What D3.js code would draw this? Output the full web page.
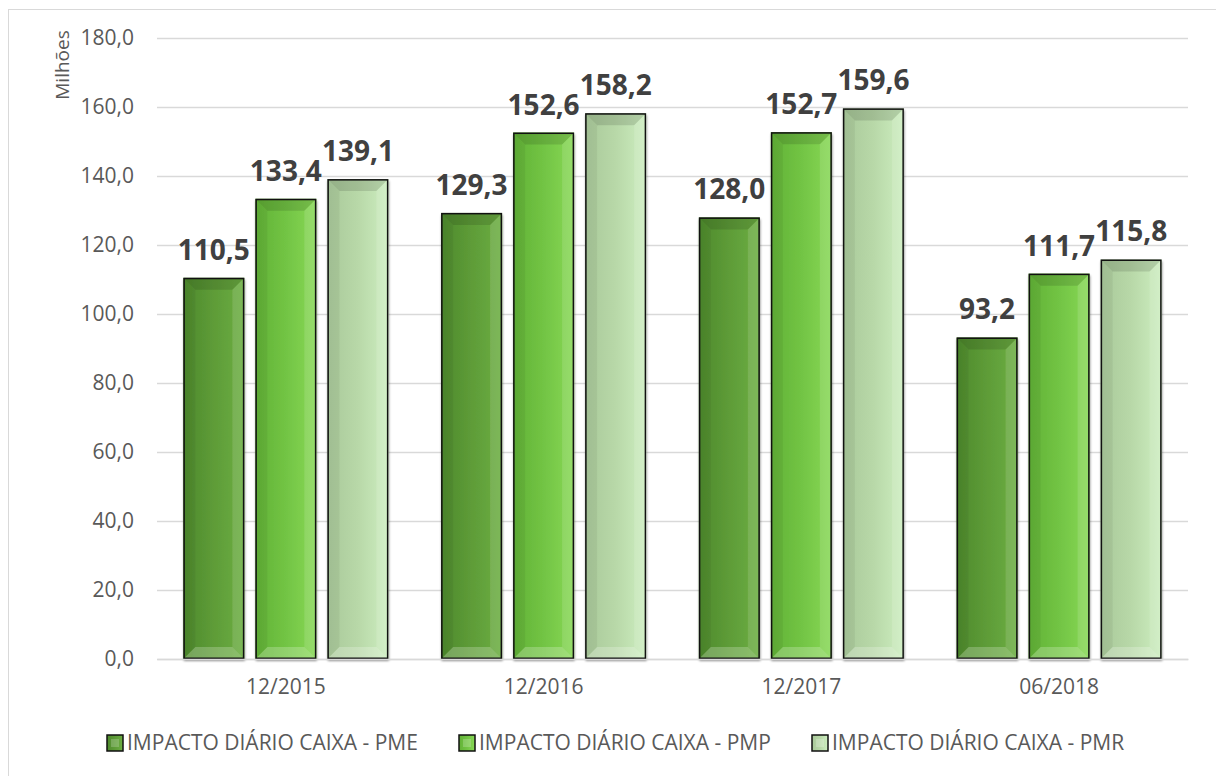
<!DOCTYPE html>
<html>
<head>
<meta charset="utf-8">
<script src="https://cdn.jsdelivr.net/npm/d3@7"></script>
<style>
  body { margin: 0; background: #fff; }
  text { font-family: "Open Sans", "Noto Sans", sans-serif; }
</style>
</head>
<body>
<div id="plot"></div>
<script>
const categories = ["12/2015", "12/2016", "12/2017", "06/2018"];
const seriesNames = ["IMPACTO DIÁRIO CAIXA - PME", "IMPACTO DIÁRIO CAIXA - PMP", "IMPACTO DIÁRIO CAIXA - PMR"];
const pme = [110.5, 129.3, 128.0, 93.2];
const pmp = [133.4, 152.6, 152.7, 111.7];
const pmr = [139.1, 158.2, 159.6, 115.8];
const yTicks = [0, 20, 40, 60, 80, 100, 120, 140, 160, 180];

const series = [pme, pmp, pmr];
// gradient stops per series (left, mid, right)
const colors = [
  ["#4e8a2c", "#5e9c38", "#6cae42"],
  ["#62b236", "#72c444", "#88d856"],
  ["#a9c99a", "#b8d8a8", "#cdeec0"]
];

const width = 1216;
const height = 776;
const margin = { top: 38, right: 28, bottom: 117, left: 157 };

const fmt = v => v.toFixed(1).replace(".", ",");

const svg = d3.select("#plot")
  .append("svg")
  .attr("width", width)
  .attr("height", height);

const defs = svg.append("defs");
colors.forEach((c, i) => {
  const g = defs.append("linearGradient")
    .attr("id", "grad" + i)
    .attr("x1", "0").attr("x2", "1").attr("y1", "0").attr("y2", "0");
  g.append("stop").attr("offset", "0%").attr("stop-color", c[0]);
  g.append("stop").attr("offset", "50%").attr("stop-color", c[1]);
  g.append("stop").attr("offset", "100%").attr("stop-color", c[2]);
});
const shadow = defs.append("filter").attr("id", "shadow")
  .attr("x", "-10%").attr("y", "-10%").attr("width", "130%").attr("height", "130%");
shadow.append("feDropShadow")
  .attr("dx", 0.5).attr("dy", 2).attr("stdDeviation", 1)
  .attr("flood-color", "#000").attr("flood-opacity", 0.45);

// chart border
svg.append("rect")
  .attr("x", 8.5).attr("y", 9.5)
  .attr("width", 1220).attr("height", 780)
  .attr("fill", "none")
  .attr("stroke", "#d9d9d9");

const x0 = d3.scaleBand()
  .domain(categories)
  .range([margin.left, width - margin.right])
  .paddingInner(0)
  .paddingOuter(0);

const x1 = d3.scaleBand()
  .domain(d3.range(series.length))
  .range([0, x0.bandwidth()])
  .paddingInner(0.153)
  .paddingOuter(0.366);

const y = d3.scaleLinear()
  .domain([0, 180])
  .range([height - margin.bottom, margin.top]);

// gridlines
svg.append("g")
  .selectAll("line")
  .data(yTicks)
  .enter()
  .append("line")
  .attr("x1", margin.left)
  .attr("x2", width - margin.right)
  .attr("y1", d => Math.round(y(d)) + 0.5)
  .attr("y2", d => Math.round(y(d)) + 0.5)
  .attr("stroke", "#d9d9d9")
  .attr("stroke-width", 1.5);

// y axis labels
const yAxis = svg.append("g")
  .attr("transform", `translate(${margin.left - 10},0)`)
  .call(d3.axisLeft(y).tickValues(yTicks).tickFormat(fmt).tickSize(0).tickPadding(13));
yAxis.select(".domain").remove();
yAxis.selectAll("text")
  .attr("font-family", "'Open Sans', sans-serif")
  .attr("font-size", 21)
  .attr("fill", "#595959");

svg.append("text")
  .attr("transform", "rotate(-90)")
  .attr("x", -65)
  .attr("y", 69)
  .attr("text-anchor", "middle")
  .attr("font-size", 19)
  .attr("fill", "#595959")
  .text("Milhões");

// bars
const bw = x1.bandwidth();
const bev = 12;
series.forEach((vals, si) => {
  const g = svg.append("g");
  const bar = g.selectAll("g.bar")
    .data(vals)
    .enter()
    .append("g")
    .attr("class", "bar")
    .attr("transform", (d, i) => `translate(${x0(categories[i]) + x1(si)},${y(d)})`);

  bar.append("rect")
    .attr("width", bw)
    .attr("height", d => y(0) - y(d))
    .attr("fill", `url(#grad${si})`)
    .attr("filter", "url(#shadow)");

  // top bevel (darker)
  bar.append("path")
    .attr("d", `M0,0 L${bw},0 L${bw - bev},${bev} L${bev},${bev} Z`)
    .attr("fill", "#000").attr("fill-opacity", 0.12);
  // left bevel
  bar.append("path")
    .attr("d", d => { const h = y(0) - y(d); return `M0,0 L${bev},${bev} L${bev},${h - bev} L0,${h} Z`; })
    .attr("fill", "#000").attr("fill-opacity", 0.05);
  // right bevel (lighter)
  bar.append("path")
    .attr("d", d => { const h = y(0) - y(d); return `M${bw},0 L${bw - bev},${bev} L${bw - bev},${h - bev} L${bw},${h} Z`; })
    .attr("fill", "#fff").attr("fill-opacity", 0.12);
  // bottom bevel (lighter)
  bar.append("path")
    .attr("d", d => { const h = y(0) - y(d); return `M0,${h} L${bev},${h - bev} L${bw - bev},${h - bev} L${bw},${h} Z`; })
    .attr("fill", "#fff").attr("fill-opacity", 0.22);

  bar.append("rect")
    .attr("x", 0.75).attr("y", 0.75)
    .attr("width", bw - 1.5)
    .attr("height", d => y(0) - y(d) - 1.5)
    .attr("fill", "none")
    .attr("stroke", "#111")
    .attr("stroke-width", 1.5);

  // data labels
  g.selectAll("text")
    .data(vals)
    .enter()
    .append("text")
    .attr("x", (d, i) => x0(categories[i]) + x1(si) + bw / 2)
    .attr("y", d => y(d) - 18)
    .attr("text-anchor", "middle")
    .attr("font-size", 28)
    .attr("font-weight", "bold")
    .attr("fill", "#404040")
    .text(fmt);
});

// x axis
const xAxis = svg.append("g")
  .attr("transform", `translate(0,${y(0)})`)
  .call(d3.axisBottom(x0).tickSize(0).tickPadding(20));
xAxis.select(".domain")
  .attr("stroke", "#d9d9d9")
  .attr("stroke-width", 1.5);
xAxis.selectAll("text")
  .attr("font-family", "'Open Sans', sans-serif")
  .attr("font-size", 21)
  .attr("fill", "#595959");

// legend
const legendX = [107, 459, 812];
const legend = svg.append("g")
  .selectAll("g")
  .data(seriesNames)
  .enter()
  .append("g")
  .attr("transform", (d, i) => `translate(${legendX[i]},735)`);
legend.append("rect")
  .attr("width", 16).attr("height", 16)
  .attr("fill", (d, i) => `url(#grad${i})`)
  .attr("stroke", "#111")
  .attr("stroke-width", 1.5);
legend.append("rect")
  .attr("x", 4).attr("y", 4)
  .attr("width", 8).attr("height", 8)
  .attr("fill", "#fff").attr("fill-opacity", 0.2);
legend.append("text")
  .attr("x", 20)
  .attr("y", 15)
  .attr("font-size", 21)
  .attr("fill", "#595959")
  .text(d => d);
</script>
</body>
</html>
